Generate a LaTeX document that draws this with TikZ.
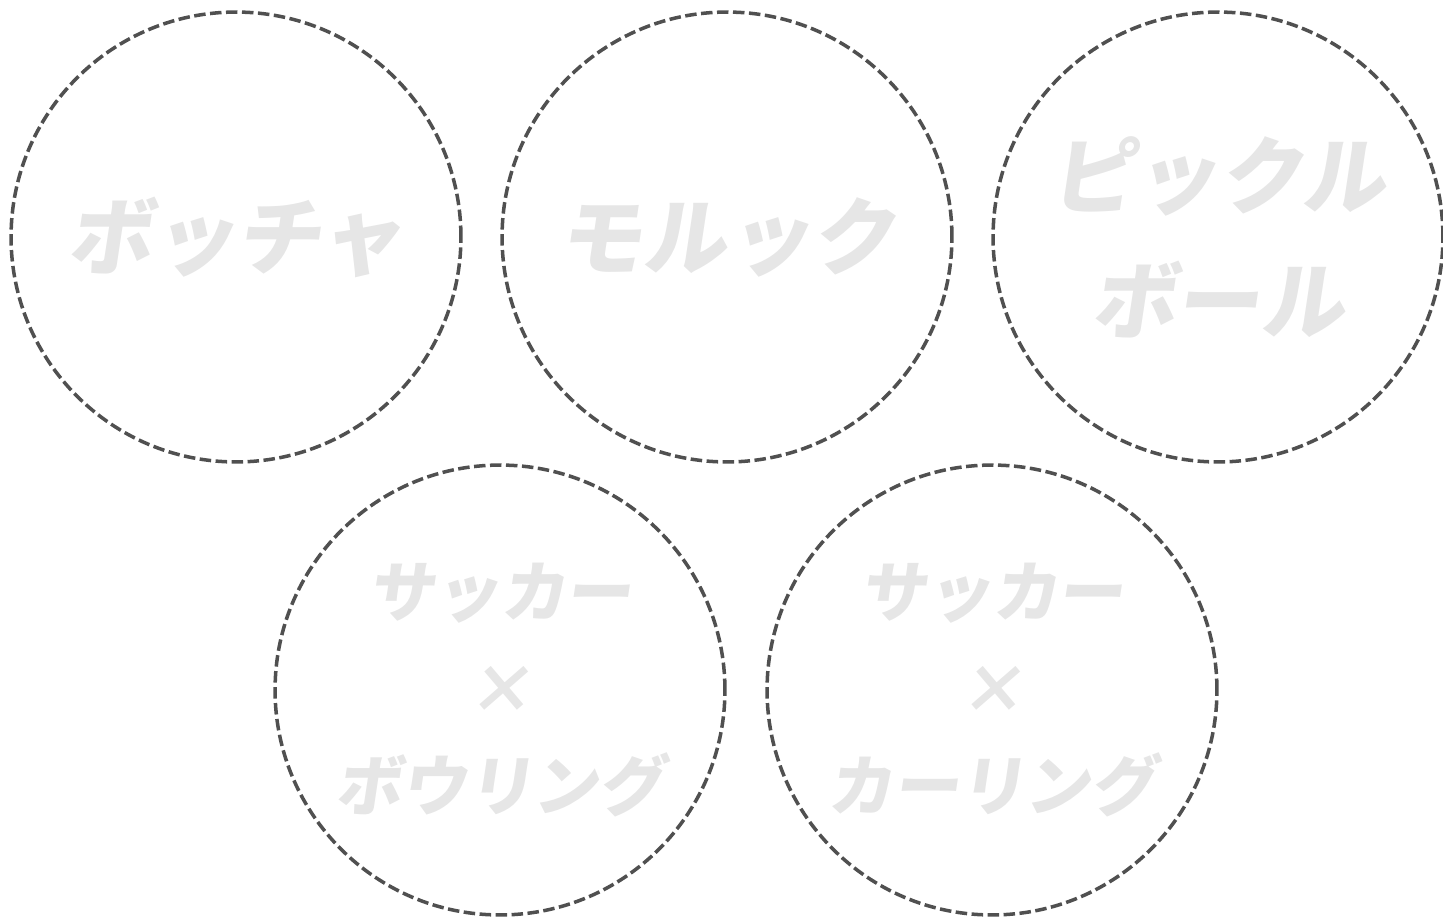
\documentclass[tikz,border=0pt]{standalone}
\usepackage{fontspec}
\newfontfamily\jpfont[FakeSlant=0.15]{Noto Sans CJK JP}
\definecolor{ringgray}{HTML}{505050}
\definecolor{labelgray}{HTML}{E6E6E6}
\tikzset{
  sportring/.style={circle, draw=ringgray, line width=2pt, dash pattern=on 0.23cm off 0.09cm,
    minimum size=9cm, inner sep=0pt, align=center, text=labelgray, font=\jpfont\bfseries},
  bigtext/.style={font=\jpfont\bfseries\fontsize{48}{71}\selectfont},
  smalltext/.style={font=\jpfont\bfseries\fontsize{37.5}{55}\selectfont}
}
\begin{document}
\begin{tikzpicture}[x=0.02cm, y=-0.02cm]
\useasboundingbox (0,0) rectangle (1443,917);
\node[sportring, bigtext] (boccia) at (236,237) {ボッチャ};
\node[sportring, bigtext] (molkky) at (727,237) {モルック};
\node[sportring, bigtext] (pickle) at (1218,237) {ピックル\\ボール};
\node[sportring, smalltext] (footbowl) at (500,690) {サッカー\\×\\ボウリング};
\node[sportring, smalltext] (footcurl) at (992,690) {サッカー\\×\\カーリング};
\end{tikzpicture}
\end{document}
